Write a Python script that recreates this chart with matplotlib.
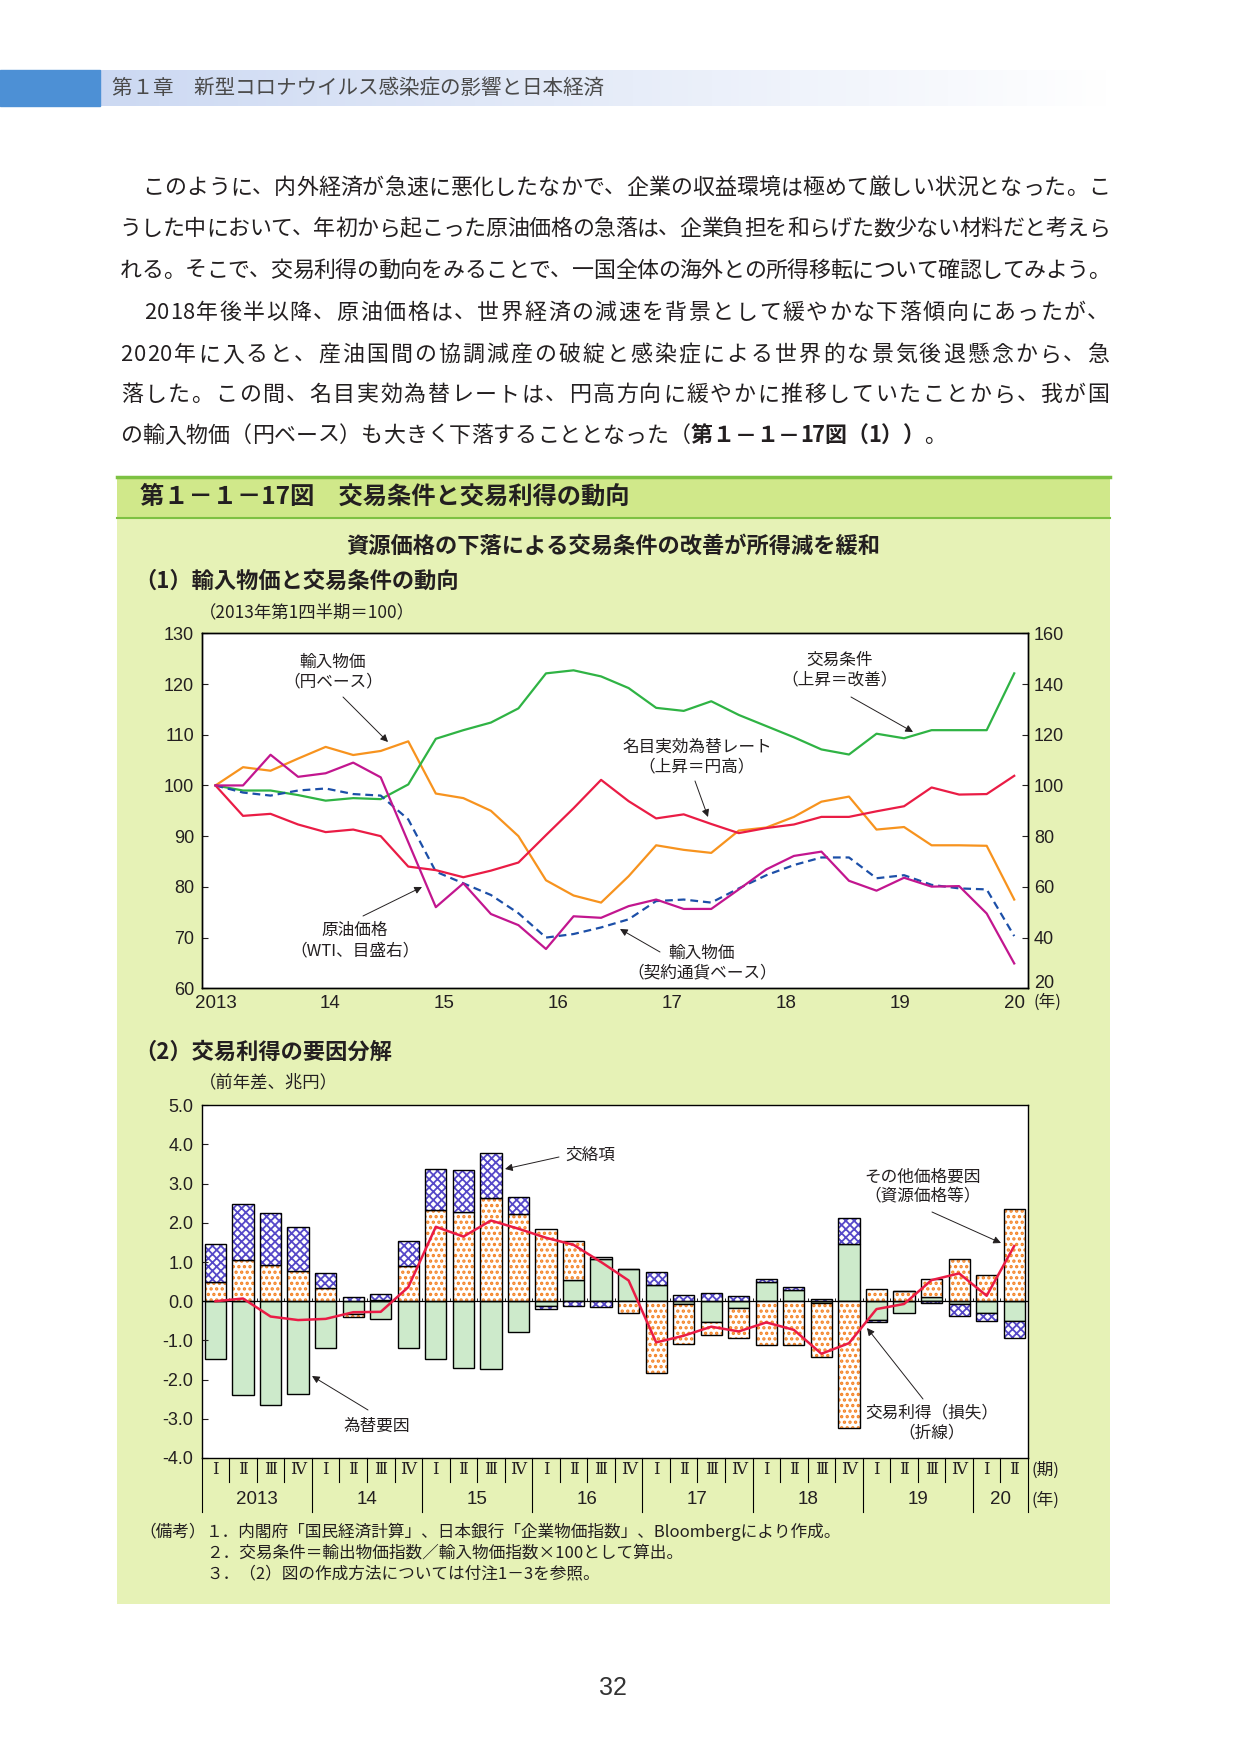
import numpy as np
import matplotlib.pyplot as plt
from matplotlib.patches import Rectangle
from matplotlib.transforms import blended_transform_factory

plt.rcParams['font.family'] = ['Noto Sans CJK JP', 'DejaVu Sans']
plt.rcParams['axes.unicode_minus'] = False

# (1) 2013Q1 - 2020Q2, 2013Q1 = 100
year_labels = ['2013', '14', '15', '16', '17', '18', '19', '20']
tot = [100, 99.0, 99.0, 98.1, 97.0, 97.5, 97.3, 100.2, 109.2, 110.9, 112.4, 115.2, 122.1, 122.7, 121.5,
       119.2, 115.3, 114.7, 116.6, 113.9, 111.7, 109.5, 107.1, 106.1, 110.2, 109.3, 110.9, 110.9, 110.9, 122.1]
imp_yen = [100, 103.6, 102.9, 105.3, 107.6, 106.0, 106.8, 108.7, 98.4, 97.5, 95.0, 90.0, 81.3, 78.3, 76.9,
           82.1, 88.2, 87.3, 86.7, 91.1, 91.7, 93.8, 96.8, 97.8, 91.3, 91.8, 88.2, 88.2, 88.1, 77.5]
neer = [100, 94.0, 94.4, 92.3, 90.8, 91.3, 90.0, 84.0, 83.3, 81.9, 83.2, 84.8, 90.2, 95.5, 101.1,
        96.9, 93.5, 94.3, 92.4, 90.6, 91.6, 92.3, 93.8, 93.8, 94.9, 95.9, 99.6, 98.2, 98.3, 101.9]
imp_contract = [100, 98.6, 98.0, 99.0, 99.4, 98.3, 98.0, 93.3, 83.0, 80.7, 78.4, 74.8, 70.0, 70.7, 72.0,
                73.6, 77.2, 77.5, 76.9, 79.7, 82.3, 84.3, 85.8, 85.8, 81.7, 82.3, 80.4, 79.7, 79.5, 70.3]
wti = [100, 100, 112.1, 103.4, 104.8, 109.0, 103.2, 77.6, 52.0, 61.4, 49.3, 44.9, 35.5, 48.4, 47.8,
       52.4, 55.0, 51.3, 51.3, 59.0, 66.9, 72.2, 73.9, 62.4, 58.5, 63.6, 60.1, 60.3, 49.5, 29.8]

# (2) 前年差、兆円
q_labels = ['Ⅰ', 'Ⅱ', 'Ⅲ', 'Ⅳ'] * 7 + ['Ⅰ', 'Ⅱ']
fx = [-1.48, -2.40, -2.65, -2.37, -1.20, -0.33, -0.46, -1.20, -1.48, -1.71, -1.73, -0.79, -0.12, 0.54, 1.07,
      0.83, 0.41, -0.07, -0.52, -0.18, 0.49, 0.28, -0.05, 1.45, -0.49, -0.31, 0.10, -0.08, -0.31, -0.51]
other = [0.48, 1.05, 0.92, 0.77, 0.33, -0.08, 0.02, 0.91, 2.32, 2.29, 2.63, 2.22, 1.84, 1.01, 0.07,
         -0.31, -1.84, -1.03, -0.35, -0.77, -1.12, -1.12, -1.38, -3.24, 0.31, 0.25, 0.46, 1.09, 0.66, 2.35]
cross = [0.97, 1.42, 1.32, 1.12, 0.38, 0.10, 0.16, 0.64, 1.05, 1.05, 1.15, 0.43, -0.08, -0.13, -0.15,
         0.0, 0.33, 0.16, 0.20, 0.14, 0.09, 0.08, 0.05, 0.68, -0.05, 0.0, -0.05, -0.29, -0.20, -0.43]
gain = [0.0, 0.07, -0.39, -0.48, -0.45, -0.28, -0.27, 0.36, 1.90, 1.65, 2.06, 1.85, 1.62, 1.44, 1.00,
        0.53, -1.05, -0.88, -0.65, -0.77, -0.54, -0.73, -1.34, -1.07, -0.20, -0.07, 0.54, 0.71, 0.14, 1.41]

body = [
    '　このように、内外経済が急速に悪化したなかで、企業の収益環境は極めて厳しい状況となった。こ',
    'うした中において、年初から起こった原油価格の急落は、企業負担を和らげた数少ない材料だと考えら',
    'れる。そこで、交易利得の動向をみることで、一国全体の海外との所得移転について確認してみよう。',
    '　2018年後半以降、原油価格は、世界経済の減速を背景として緩やかな下落傾向にあったが、',
    '2020年に入ると、産油国間の協調減産の破綻と感染症による世界的な景気後退懸念から、急',
    '落した。この間、名目実効為替レートは、円高方向に緩やかに推移していたことから、我が国',
    'の輸入物価（円ベース）も大きく下落することとなった（第１－１－17図（1））。',
]

TXT = '#231f20'
NUM = ['Liberation Sans', 'Noto Sans CJK JP']
W, H = 1241, 1754
fig = plt.figure(figsize=(12.41, 17.54), dpi=100)
bg = fig.add_axes([0, 0, 1, 1])

# page header
grad = np.linspace(0, 1, 256)[None, :, None]
c0 = np.array([0.80, 0.85, 0.95])
bg.imshow(c0 + (1 - c0) * grad, extent=(100, 1110, 106, 70), aspect='auto')
bg.add_patch(Rectangle((0, 70), 100, 36, color='#4d90d5'))
bg.text(112, 88, '第１章　新型コロナウイルス感染症の影響と日本経済', fontsize=14.8, color='#4a4a4a', va='center')

# body text, justified by character
fs = 15.8
em = fs * 100 / 72
ys = [188, 229, 271, 313, 355, 395, 436]
for k, (line, y) in enumerate(zip(body, ys)):
    units = [0.55 if ord(c) < 128 else 1.0 for c in line]
    step = (1110 - 120) / sum(units) if k < 6 else em
    bold_from = line.find('第１－') if k == 6 else -1
    x = 120
    for j, (c, u) in enumerate(zip(line, units)):
        wgt = 'bold' if bold_from >= 0 and bold_from <= j < bold_from + 12 else 'normal'
        bg.text(x + u * step / 2, y, c, fontsize=fs, ha='center', va='center', color=TXT, fontweight=wgt)
        x += u * step

# green figure box
bg.add_patch(Rectangle((117, 476), 993, 1128, fc='#e6f2b6', ec='none'))
bg.add_patch(Rectangle((117, 477), 993, 41, fc='#d0e88a', ec='none'))
bg.plot([117, 1110], [477, 477], color='#7dc142', lw=2.5)
bg.plot([117, 1110], [518, 518], color='#7dc142', lw=1.5)
bg.text(140, 497, '第１－１－17図　交易条件と交易利得の動向', fontsize=17.5, fontweight='bold', va='center', color=TXT)
bg.text(613, 546, '資源価格の下落による交易条件の改善が所得減を緩和', fontsize=16, fontweight='bold',
        ha='center', va='center', color=TXT)
bg.text(134, 581, '（1）輸入物価と交易条件の動向', fontsize=16, fontweight='bold', va='center', color=TXT)
bg.text(199, 612, '（2013年第1四半期＝100）', fontsize=12.5, va='center', color=TXT)
bg.text(134, 1052, '（2）交易利得の要因分解', fontsize=16, fontweight='bold', va='center', color=TXT)
bg.text(199, 1082, '（前年差、兆円）', fontsize=12.5, va='center', color=TXT)

bg.text(139, 1532, '（備考）', fontsize=12, va='center', color=TXT)
bg.text(206, 1532, '１．内閣府「国民経済計算」、日本銀行「企業物価指数」、Bloombergにより作成。', fontsize=12, va='center', color=TXT)
bg.text(206, 1553, '２．交易条件＝輸出物価指数／輸入物価指数×100として算出。', fontsize=12, va='center', color=TXT)
bg.text(206, 1574, '３．（2）図の作成方法については付注1－3を参照。', fontsize=12, va='center', color=TXT)
bg.text(613, 1688, '32', fontsize=18, ha='center', va='center', color='#333333', family=NUM)

bg.set_xlim(0, W)
bg.set_ylim(H, 0)
bg.axis('off')

arrow = dict(arrowstyle='-|>', color=TXT, lw=0.7, mutation_scale=11, shrinkA=0, shrinkB=0)


def note(ax, text, xy, tail, head):
    ax.text(xy[0], xy[1], text, transform=bg.transData, ha='center', va='center', fontsize=12,
            color=TXT, linespacing=1.25)
    ax.annotate('', xy=head, xytext=tail, xycoords=bg.transData, textcoords=bg.transData, arrowprops=arrow)


# ---- (1) line chart
x = np.arange(len(tot))
ax1 = fig.add_axes([201.7 / W, 1 - 988.3 / H, 826.3 / W, 355 / H])
ax1.plot(x, imp_yen, color='#f7931e', lw=1.6)
ax1.plot(x, tot, color='#2fb344', lw=1.6)
ax1.plot(x, imp_contract, color='#1c4fa8', lw=1.6, dashes=(3.5, 2.2))
ax1.plot(x, neer, color='#ea1c45', lw=1.6)
ax1.set_xlim(-0.5, len(tot) - 0.5)
ax1.set_ylim(60, 130)
ax1.set_yticks(range(60, 131, 10))
ax1.set_xticks(np.linspace(0, len(tot) - 1, len(year_labels)))
ax1.set_xticklabels(year_labels)
ax1.tick_params(axis='y', direction='in', length=4, labelsize=13, pad=5.5, colors=TXT)
ax1.tick_params(axis='x', length=0, labelsize=13.5, pad=5, colors=TXT)
ax2 = ax1.twinx()
ax2.plot(x, wti, color='#c2168f', lw=1.6)
ax2.set_ylim(20, 160)
ax2.set_yticks(range(20, 161, 20))
ax2.tick_params(axis='y', direction='in', length=4, labelsize=13, pad=4.3, colors=TXT)
for lab in ax1.get_xticklabels() + ax1.get_yticklabels() + ax2.get_yticklabels():
    lab.set_family(NUM)
ax2.get_yticklabels()[0].set_va('baseline')
for a in (ax1, ax2):
    for s in a.spines.values():
        s.set_linewidth(1.0)
ax2.text(1047, 1002, '(年)', transform=bg.transData, ha='center', va='center', fontsize=12, color=TXT)

note(ax2, '輸入物価\n（円ベース）', (333, 672), (343, 697), (388, 742))
note(ax2, '原油価格\n（WTI、目盛右）', (355, 941), (363, 916), (422, 887))
note(ax2, '交易条件\n（上昇＝改善）', (840, 670), (851, 697), (913, 732))
note(ax2, '名目実効為替レート\n（上昇＝円高）', (697, 757), (695, 781), (708, 817))
note(ax2, '輸入物価\n（契約通貨ベース）', (702, 963), (660, 952), (620, 929))

# ---- (2) stacked bars
xb = np.arange(len(gain))
axb = fig.add_axes([201.7 / W, 1 - 1458 / H, 826.3 / W, 352.7 / H])
pos = np.zeros(len(gain))
neg = np.zeros(len(gain))
styles = [
    (fx, dict(facecolor='#cdeacb'), None, 1.0),
    (other, dict(facecolor='white', edgecolor='#f48224', hatch='...'), True, 1.6),
    (cross, dict(facecolor='white', edgecolor='#5548c8', hatch='xxxx'), True, 1.3),
]
bw = 0.77
for vals, st, hatched, hlw in styles:
    plt.rcParams['hatch.linewidth'] = hlw
    v = np.array(vals)
    base = np.where(v >= 0, pos, neg)
    if hatched:
        axb.bar(xb, v, bw, bottom=base, linewidth=0, **st)
        axb.bar(xb, v, bw, bottom=base, facecolor='none', edgecolor='black', linewidth=1.0)
    else:
        axb.bar(xb, v, bw, bottom=base, edgecolor='black', linewidth=1.0, **st)
    pos += np.clip(v, 0, None)
    neg += np.clip(v, None, 0)
axb.axhline(0, color='black', lw=0.9)
axb.vlines(xb[:-1] + 0.5, 0, 0.08, color='black', lw=0.6)
axb.plot(xb, gain, color='#ea1c45', lw=1.8, zorder=5)
axb.set_xlim(-0.5, len(gain) - 0.5)
axb.set_ylim(-4, 5)
axb.set_yticks(np.arange(-4, 5.1, 1))
axb.set_yticklabels(['%.1f' % v for v in np.arange(-4, 5.1, 1)])
axb.set_xticks([])
axb.tick_params(axis='y', direction='in', length=4, labelsize=13, pad=6, colors=TXT)
for lab in axb.get_yticklabels():
    lab.set_family(NUM)
for s in axb.spines.values():
    s.set_linewidth(1.0)

tr = blended_transform_factory(axb.transData, axb.transAxes)
for i, q in enumerate(q_labels):
    axb.text(i, -0.034, q, transform=tr, ha='center', va='center', fontsize=12, color=TXT,
             family=['DejaVu Serif', 'Noto Sans CJK JP'])
for b in xb[:-1] + 0.5:
    long = (b + 0.5) % 4 == 0
    axb.plot([b, b], [0, -0.153 if long else -0.068], transform=tr, clip_on=False, color='black', lw=0.8)
for b in (-0.5, len(gain) - 0.5):
    axb.plot([b, b], [0, -0.153], transform=tr, clip_on=False, color='black', lw=0.8)
year_pos = [1.5 + 4 * k for k in range(7)] + [28.5]
for p, lab in zip(year_pos, year_labels):
    axb.text(p, -0.119, lab, transform=tr, ha='center', va='center', fontsize=13.5, color=TXT, family=NUM)
axb.text(1.004, -0.034, '(期)', transform=axb.transAxes, ha='left', va='center', fontsize=12, color=TXT)
axb.text(1.004, -0.119, '(年)', transform=axb.transAxes, ha='left', va='center', fontsize=12, color=TXT)

note(axb, '交絡項', (590, 1155), (559, 1157), (505, 1169))
note(axb, '為替要因', (377, 1426), (368, 1410), (312, 1376))
note(axb, 'その他価格要因\n（資源価格等）', (923, 1187), (932, 1212), (1001, 1243))
note(axb, '交易利得（損失）\n（折線）', (932, 1423), (923, 1399), (867, 1328))

fig.savefig('out.png', dpi=100)
plt.close()
